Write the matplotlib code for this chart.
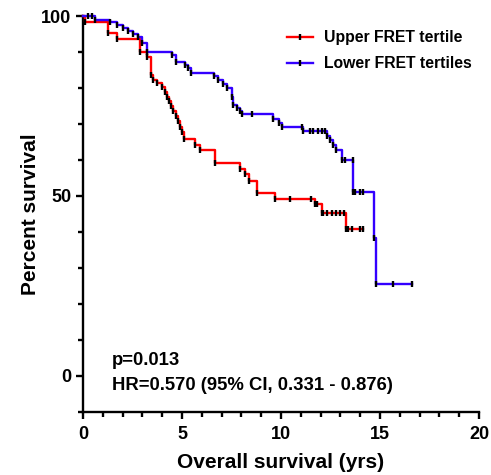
import matplotlib
matplotlib.use("Agg")
import matplotlib.pyplot as plt
from matplotlib.lines import Line2D
from matplotlib.legend_handler import HandlerTuple
from matplotlib.ticker import MultipleLocator

plt.rcParams['font.family'] = ['Liberation Sans', 'DejaVu Sans']
plt.rcParams['font.weight'] = 'bold'

# Upper FRET tertile (red): step times and survival after each step
red_t = [0, 0.10, 1.28, 1.70, 2.90, 3.25, 3.42, 3.55, 3.75, 3.97, 4.14, 4.23, 4.34, 4.44,
         4.56, 4.70, 4.81, 4.90, 5.02, 5.12, 5.66, 5.91, 6.67, 7.93, 8.18, 8.40, 8.80,
         9.70, 11.72, 12.05, 13.28]
red_s = [100, 98.4, 95.2, 93.5, 90.1, 88.5, 83.6, 82.3, 81.3, 80.2, 79.0, 77.6, 76.3, 74.9,
         73.7, 72.1, 70.7, 69.3, 67.9, 65.7, 64.3, 62.9, 59.2, 57.6, 56.0, 54.1, 50.9,
         49.2, 47.9, 45.3, 40.7]
red_end = 14.16
red_cens_t = [10.45, 11.50, 11.80, 12.14, 12.34, 12.56, 12.76, 12.98, 13.18, 13.40, 13.57, 13.99, 14.13]
red_cens_s = [49.2, 49.2, 47.9, 45.3, 45.3, 45.3, 45.3, 45.3, 45.3, 40.7, 40.7, 40.7, 40.7]

# Lower FRET tertiles (blue)
blue_t = [0, 0.60, 1.36, 1.70, 2.04, 2.29, 2.54, 2.80, 2.96, 3.25, 4.48, 4.70, 5.15, 5.32,
          5.44, 6.60, 6.83, 7.09, 7.29, 7.51, 7.59, 7.76, 7.93, 8.01, 9.61, 9.92, 10.03,
          11.09, 12.31, 12.47, 12.64, 12.80, 13.06, 13.65, 14.70, 14.80]
blue_s = [100, 98.9, 98.2, 97.5, 96.6, 95.7, 94.9, 94.1, 92.4, 90.1, 89.2, 87.3, 86.4, 85.5,
          84.3, 83.4, 82.3, 81.2, 80.0, 77.6, 75.3, 74.4, 73.5, 72.8, 71.4, 70.2, 69.1,
          68.0, 66.6, 65.5, 64.3, 62.9, 60.1, 51.1, 38.4, 25.5]
blue_end = 16.63
blue_cens_t = [0.25, 0.45, 8.52, 11.04, 11.46, 11.63, 11.88, 12.05, 12.20, 13.23, 13.62,
               13.74, 13.99, 14.16, 15.64, 16.63]
blue_cens_s = [100, 100, 72.8, 69.1, 68.0, 68.0, 68.0, 68.0, 68.0, 60.1, 60.1,
               51.1, 51.1, 51.1, 25.5, 25.5]

labels = ["Upper FRET tertile", "Lower FRET tertiles"]
colors = ["#ff0000", "#3300ff"]

fig = plt.figure(figsize=(4.91, 4.75), dpi=100)
ax = fig.add_axes([83/491, 1-412/475, 396/491, 396/475])

series = [(red_t, red_s, red_end, red_cens_t, red_cens_s),
          (blue_t, blue_s, blue_end, blue_cens_t, blue_cens_s)]
handles = []
for (t, s, end, ct, cs), col, lab in zip(series, colors, labels):
    tt = list(t) + [end]
    ss = list(s) + [s[-1]]
    ax.step(tt, ss, where='post', color=col, lw=1.7, clip_on=False, zorder=3)
    ax.plot(t[1:], s[1:], ls='none', marker='|', color='black', ms=4, mew=1.7,
            clip_on=False, zorder=4)
    ax.plot(ct, cs, ls='none', marker='|', color='black', ms=4, mew=1.7,
            clip_on=False, zorder=4)
    h = (Line2D([], [], color=col, lw=1.7),
         Line2D([], [], ls='none', marker='|', color='black', ms=4, mew=1.7))
    handles.append(h)

ax.set_xlim(0, 20)
ax.set_ylim(-10, 100)
ax.xaxis.set_major_locator(MultipleLocator(5))
ax.xaxis.set_minor_locator(MultipleLocator(1))
ax.set_yticks([0, 50, 100])
ax.yaxis.set_minor_locator(MultipleLocator(10))
for sp in ['top', 'right']:
    ax.spines[sp].set_visible(False)
for sp in ['left', 'bottom']:
    ax.spines[sp].set_linewidth(1.7)
ax.tick_params(which='major', length=5, width=1.7, labelsize=13)
ax.tick_params(axis='y', which='major', pad=3.5)
ax.tick_params(axis='x', which='major', pad=5)
ax.tick_params(which='minor', length=3.5, width=1.7)
for lab in ax.get_xticklabels() + ax.get_yticklabels():
    lab.set_fontweight('bold')

ax.set_xlabel("Overall survival (yrs)", fontsize=15, fontweight='bold', labelpad=7)
ax.set_ylabel("Percent survival", fontsize=15, fontweight='bold', labelpad=0.5)

ax.text(1.46, 3.0, "p=0.013", fontsize=13.3, fontweight='bold', va='baseline', ha='left')
ax.text(1.46, -3.8, "HR=0.570 (95% CI, 0.331 - 0.876)", fontsize=13.3, fontweight='bold',
        va='baseline', ha='left')

fig.legend(handles, labels, handler_map={tuple: HandlerTuple(ndivide=1)},
           loc='upper left', bbox_to_anchor=(287/491, 1-30/475), frameon=False,
           handlelength=1.65, handletextpad=0.72, labelspacing=0.72,
           borderpad=0, borderaxespad=0, prop={'weight': 'bold', 'size': 11.3})

fig.savefig("out.png", dpi=100)
